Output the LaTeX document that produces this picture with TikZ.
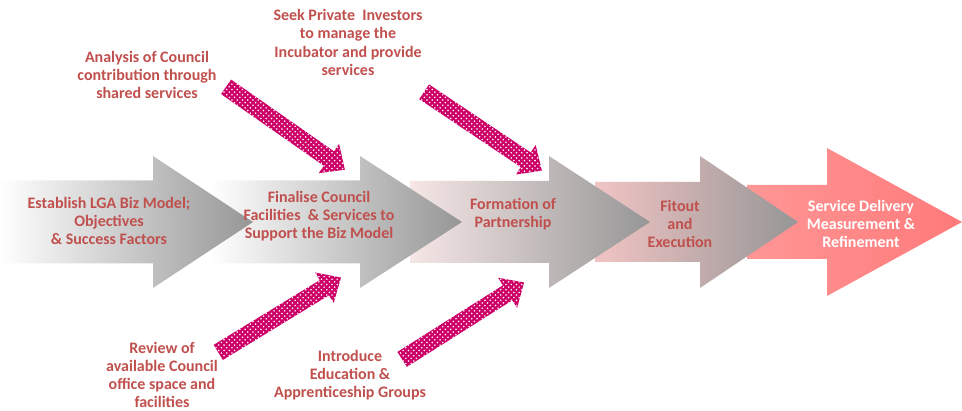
\documentclass[tikz,border=0pt]{standalone}
\usepackage{fontspec}
\setmainfont{Carlito}
\usetikzlibrary{shapes.arrows,patterns,calc}

\definecolor{labelred}{RGB}{192,80,77}
\definecolor{pushpink}{RGB}{204,0,102}
\definecolor{stagegray}{RGB}{150,150,150}
\definecolor{fadepink}{RGB}{246,230,230}
\definecolor{midpink}{RGB}{242,196,196}
\definecolor{salmonl}{RGB}{255,150,150}
\definecolor{salmonr}{RGB}{255,122,122}

% shaft start, head start, tip, shaft half height, head half height, shading
\newcommand{\stagearrow}[6]{%
  \shade[#6] (#1,222-#4) -- (#2,222-#4) -- (#2,222-#5) -- (#3,222)
    -- (#2,222+#5) -- (#2,222+#4) -- (#1,222+#4) -- cycle;}

% name, tail, tip
\newcommand{\pusharrow}[3]{%
  \path let \p1=($(#3)-(#2)$), \n1={veclen(\x1,\y1)}, \n2={atan2(\y1,\x1)} in
    node[push, minimum height=\n1, rotate=\n2] (#1) at ($(#2)!0.5!(#3)$) {};}

\begin{document}
\begin{tikzpicture}[x=0.02cm, y=-0.02cm,
    lbl/.style={align=center, text=labelred, font=\fontsize{9.1}{10.3}\selectfont\bfseries},
    push/.style={single arrow, draw=none, inner sep=0.17cm, minimum width=0pt,
      single arrow head extend=0.18cm, single arrow tip angle=85,
      preaction={fill=pushpink}, pattern=crosshatch dots, pattern color=white}]
  \useasboundingbox (0,0) rectangle (962,411);

  % Draw the stage arrows, last one first
  \stagearrow{747}{827}{962}{37}{74}{left color=salmonl, right color=salmonr}
  \stagearrow{595}{700}{798}{40}{66}{left color=midpink, right color=stagegray}
  \stagearrow{410}{549}{650}{41}{66}{left color=fadepink, right color=stagegray}
  \stagearrow{210}{360}{462}{41.5}{66}{left color=white, right color=stagegray}
  \stagearrow{0}{153}{253}{41.5}{66}{left color=white, right color=stagegray}

  % Stage labels
  \node[lbl] (est) at (109,221) {Establish LGA Biz Model;\\Objectives\\\& Success Factors};
  \node[lbl] (fin) at (319,216) {Finalise Council\\Facilities \ \& Services to\\Support the Biz Model};
  \node[lbl] (form) at (513,214) {Formation of\\Partnership};
  \node[lbl] (fit) at (680,224) {Fitout\\and\\Execution};
  \node[lbl, text=white] (serv) at (861,224) {Service Delivery\\Measurement \&\\Refinement};

  % Inputs from above and below
  \node[lbl] (anal) at (147,75) {Analysis of Council\\contribution through\\shared services};
  \node[lbl] (seek) at (348,42.5) {Seek Private \ Investors\\to manage the\\Incubator and provide\\services};
  \node[lbl] (rev) at (162,375) {Review of\\available Council\\office space and\\facilities};
  \node[lbl] (intro) at (350,375) {Introduce\\Education \&\\Apprenticeship Groups};

  % Ends of the pink arrows
  \coordinate (anal-t) at (222,84);
  \coordinate (anal-h) at (341,167);
  \coordinate (seek-t) at (420,89);
  \coordinate (seek-h) at (538,168);
  \coordinate (rev-t) at (214,355);
  \coordinate (rev-h) at (337,280);
  \coordinate (intro-t) at (398,362);
  \coordinate (intro-h) at (520,285);

  % Draw the pink arrows
  \pusharrow{anal-arr}{anal-t}{anal-h}
  \pusharrow{seek-arr}{seek-t}{seek-h}
  \pusharrow{rev-arr}{rev-t}{rev-h}
  \pusharrow{intro-arr}{intro-t}{intro-h}
\end{tikzpicture}
\end{document}
